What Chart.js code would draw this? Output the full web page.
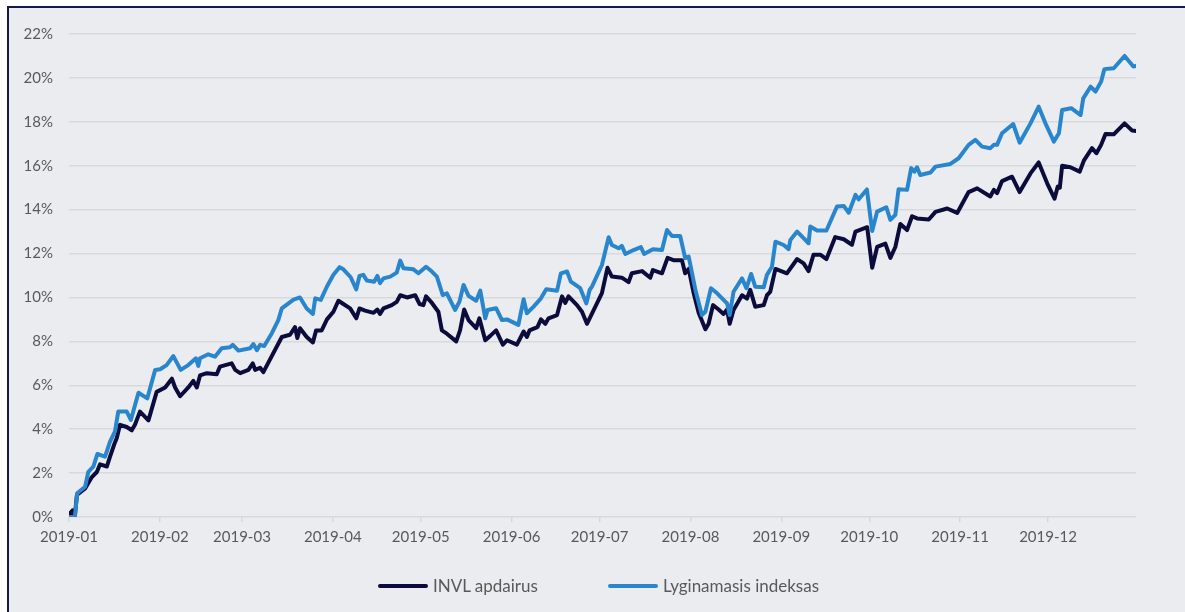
<!DOCTYPE html>
<html>
<head>
<meta charset="utf-8">
<script src="https://cdn.jsdelivr.net/npm/chart.js@4"></script>
<style>
  html, body { margin: 0; padding: 0; background: #ffffff; overflow: hidden; }
  #frame {
    position: absolute; left: 7px; top: 6px; width: 1200px; height: 620px;
    background: #ebecef; border-left: 2px solid #15184a; border-top: 2px solid #15184a;
  }
  #wrap { position: absolute; left: 0; top: 0; width: 1185px; height: 612px; }
  #legend { position: absolute; left: 0; top: 0; font-family: Lato, sans-serif; font-size: 17px; color: #595959; }
  .item { position: absolute; top: 575px; display: flex; align-items: center; white-space: nowrap; }
  .swatch { width: 50px; height: 4px; border-radius: 2px; margin-right: 5px; }
</style>
</head>
<body>
<div id="frame"></div>
<div id="wrap"><canvas id="chart"></canvas></div>
<div id="legend"></div>
<script>
// day of year (0 = 2019-01-01) and cumulative return, %
const monthLabels = ["2019-01", "2019-02", "2019-03", "2019-04", "2019-05", "2019-06",
  "2019-07", "2019-08", "2019-09", "2019-10", "2019-11", "2019-12"];
const monthStartDays = [0, 31, 59, 90, 120, 151, 181, 212, 243, 273, 304, 334];

const seriesNames = ["INVL apdairus", "Lyginamasis indeksas"];

const invlDays = [0, 1.2, 2, 2.7, 5.5, 7.7, 9.5, 10.6, 12.9, 14, 15.4, 16.3, 17.4, 19.7, 21.4, 22.5, 24.2, 27.1, 29.9,
  32.8, 35.1, 36.2, 37.9, 40.7, 42.4, 43.6, 44.7, 47, 50.4, 51.5, 55.5, 56.7, 58.4, 61.2, 62.7, 63.5, 65.2, 66.3,
  72.6, 75.4, 77.1, 77.9, 78.8, 81.1, 83.2, 84.3, 86.2, 88, 90.2, 91.9, 93.6, 95.9, 98, 99.1, 101, 103.9, 105.2,
  106.1, 107.3, 110.1, 111.8, 113, 115.3, 118.1, 119.6, 120.9, 121.8, 123.8, 126, 127.2, 128.9, 132.1, 133.4,
  134.8, 136.3, 138.9, 140, 142, 143.7, 145.7, 148, 149.4, 152.8, 155.1, 156.2, 157.1, 159.8, 161, 162.5, 163.6,
  166.5, 168.2, 169.3, 170.4, 173.3, 175, 176.7, 178.9, 181.8, 183.7, 185.2, 188.6, 190.9, 192, 195.5, 198.3,
  199.2, 202.3, 204.2, 206.2, 209.1, 210.2, 211.4, 213.1, 214.8, 217.1, 218.2, 219.7, 221.6, 223.3, 224.5, 225.4,
  226.7, 229.6, 231.3, 232.4, 234.1, 237, 238.1, 239.2, 241, 244.9, 248.4, 250.6, 252.3, 254, 256.3, 258.4, 261.4,
  264.3, 267.1, 268.3, 272.3, 274, 275.7, 278.5, 280.2, 281.9, 283.6, 285.9, 287.6, 289.3, 293.3, 295.6, 299.6,
  303, 306.9, 309.8, 314.3, 315.5, 316.6, 318.3, 321.7, 324.3, 328, 330.8, 333.7, 336.2, 337.3, 338, 338.8, 341.6,
  344.8, 346.2, 349, 350.5, 352.1, 353.6, 356.4, 360.1, 362.7, 364];
const invlValues = [0.1, 0.3, 0.05, 1.0, 1.3, 1.8, 2.05, 2.4, 2.3, 2.75, 3.3, 3.6, 4.2, 4.1, 3.95, 4.2, 4.8, 4.4, 5.7,
  5.9, 6.3, 5.9, 5.5, 5.9, 6.2, 5.9, 6.45, 6.55, 6.5, 6.85, 7.0, 6.7, 6.55, 6.7, 7.0, 6.7, 6.8, 6.6,
  8.2, 8.3, 8.65, 8.15, 8.6, 8.2, 7.95, 8.5, 8.5, 9.0, 9.35, 9.85, 9.7, 9.5, 9.05, 9.5, 9.4, 9.3, 9.45,
  9.25, 9.5, 9.65, 9.8, 10.1, 10.0, 10.1, 9.7, 9.65, 10.05, 9.75, 9.35, 8.5, 8.35, 8.0, 8.5,
  9.45, 8.97, 8.6, 9.05, 8.05, 8.25, 8.5, 7.85, 8.05, 7.85, 8.45, 8.2, 8.5, 8.65, 9.0, 8.8, 9.05,
  9.2, 10.05, 9.75, 10.05, 9.65, 9.35, 8.8, 9.4, 10.2, 11.35, 10.95, 10.9, 10.7, 11.1, 11.2, 10.9,
  11.25, 11.1, 11.8, 11.7, 11.7, 11.1, 11.3, 10.2, 9.3, 8.55, 8.8, 9.65, 9.45, 9.25, 9.45, 8.8,
  9.43, 10.1, 9.95, 10.35, 9.58, 9.65, 10.1, 10.25, 11.3, 11.1, 11.75, 11.55, 11.2, 11.95, 11.95, 11.75, 12.75,
  12.65, 12.4, 13.0, 13.2, 11.35, 12.3, 12.45, 11.8, 12.3, 13.35, 13.07, 13.7, 13.6, 13.55, 13.9, 14.05,
  13.85, 14.8, 14.97, 14.6, 14.9, 14.75, 15.3, 15.5, 14.8, 15.65, 16.15, 15.2, 14.5, 15.05, 15.0, 16.0, 15.93,
  15.73, 16.23, 16.8, 16.57, 16.95, 17.45, 17.43, 17.93, 17.6, 17.58];

const indexDays = [0, 2, 2.8, 5.5, 6.6, 8.3, 9.7, 12.3, 14, 15.7, 16.8, 19.7, 21.1, 23.7, 26.7, 29.4, 31.1, 33.3, 35.6,
  38.1, 40.7, 43.3, 44.1, 44.7, 47.5, 49.8, 52.1, 54.9, 55.9, 57.8, 61.8, 62.9, 64.1, 65.2, 66.6, 69.2, 71.4, 72.6,
  76.6, 78.8, 81.1, 83.2, 84, 85.9, 88, 90.2, 92.3, 93.6, 96.1, 98, 99.1, 100.4, 101.6, 104.1, 105.2, 106.1, 107.3,
  109.6, 111.8, 113, 114.1, 117.5, 119.2, 121.8, 123.8, 125.5, 127.5, 128.9, 131.7, 133.2, 134.6, 136.3, 138.9,
  140.3, 142, 142.8, 145.7, 147.7, 149.4, 153.3, 155.1, 156.2, 158.5, 161, 162.8, 166.5, 167.8, 169.9, 171.2,
  174.4, 176.5, 177.6, 178.4, 181.8, 184.1, 185.2, 187.5, 188.6, 189.8, 192.6, 195.1, 196.2, 199.2, 202.3, 204,
  205.7, 208.5, 210.2, 211.4, 213.7, 215.9, 217.1, 219, 221.1, 223.3, 224.5, 225.4, 226.7, 229.6, 231.1, 232.7,
  234.1, 237, 238.1, 239.8, 241, 243.8, 245.5, 246.1, 248.4, 250.6, 252.3, 252.9, 255.2, 258.4, 262, 264.3, 266,
  268.3, 269.4, 272.2, 274, 275.7, 278.8, 280.2, 281.9, 283, 285.9, 287.3, 288.4, 289.3, 290.4, 293.9, 295.6,
  300.7, 303.5, 306.9, 309.2, 311.5, 314.3, 315.5, 316.6, 318.3, 322.1, 324.3, 328, 330.8, 333.1, 336, 337.7,
  338.8, 341.9, 345.1, 346, 348.5, 350.2, 352.1, 353.2, 356.4, 360.1, 363.1, 364];
const indexValues = [0, 0, 1.08, 1.38, 2.06, 2.3, 2.87, 2.75, 3.43, 3.9, 4.8, 4.8, 4.42, 5.66, 5.4, 6.7, 6.73, 6.92, 7.33,
  6.7, 6.92, 7.23, 6.88, 7.23, 7.41, 7.3, 7.69, 7.73, 7.84, 7.58, 7.69, 7.88, 7.6, 7.84, 7.79, 8.37, 8.97, 9.5,
  9.9, 10.0, 9.5, 9.25, 9.96, 9.89, 10.5, 11.03, 11.38, 11.28, 10.92, 10.37, 10.98, 11.03, 10.77, 10.72, 10.98, 10.65, 10.87,
  10.95, 11.13, 11.68, 11.33, 11.28, 11.1, 11.4, 11.18, 10.95, 10.11, 10.19, 9.43, 9.81, 10.57, 10.07, 9.85,
  10.31, 9.05, 9.43, 9.51, 8.97, 9.0, 8.75, 9.92, 9.28, 9.58, 9.96, 10.37, 10.31, 11.1, 11.18, 10.72,
  10.42, 9.73, 10.34, 10.49, 11.48, 12.74, 12.39, 12.24, 12.35, 11.98, 12.16, 12.29, 11.98, 12.2, 12.16, 13.07,
  12.8, 12.8, 11.79, 11.86, 10.34, 9.2, 9.35, 10.42, 10.19, 9.89, 9.73, 9.2, 10.26, 10.87, 10.42, 11.07,
  10.49, 10.46, 11.03, 11.4, 12.54, 12.39, 12.2, 12.62, 13.0, 12.7, 12.47, 13.23, 13.05, 13.05, 14.14, 14.17, 13.86,
  14.67, 14.47, 14.92, 13.03, 13.91, 14.11, 13.53, 13.76, 14.93, 14.9, 15.89, 15.73, 15.93, 15.58, 15.69, 15.96,
  16.08, 16.34, 16.95, 17.18, 16.87, 16.8, 16.95, 16.95, 17.48, 17.9, 17.05, 17.93, 18.69, 17.93, 17.1, 17.48,
  18.54, 18.62, 18.31, 19.07, 19.6, 19.38, 19.83, 20.4, 20.44, 21.0, 20.52, 20.55];

const darkNavy = "#0b0b3c";
const lightBlue = "#2986cc";
const labelColor = "#595959";
const gridColor = "#d8d9dc";

function toPoints(days, values) {
  return days.map((d, i) => ({ x: d, y: values[i] }));
}

const ctx = document.getElementById("chart").getContext("2d");
const chart = new Chart(ctx, {
  type: "line",
  data: {
    datasets: [
      {
        label: seriesNames[0],
        data: toPoints(invlDays, invlValues),
        borderColor: darkNavy,
        backgroundColor: darkNavy,
        borderWidth: 4,
        order: 1,
      },
      {
        label: seriesNames[1],
        data: toPoints(indexDays, indexValues),
        borderColor: lightBlue,
        backgroundColor: lightBlue,
        borderWidth: 4,
        order: 0,
      },
    ],
  },
  options: {
    responsive: true,
    maintainAspectRatio: false,
    animation: false,
    elements: {
      point: { radius: 0, hoverRadius: 0 },
      line: { tension: 0, borderJoinStyle: "round", borderCapStyle: "round" },
    },
    layout: { padding: { top: 34, right: 49, bottom: 55, left: 0 } },
    plugins: {
      legend: { display: false },
      tooltip: { enabled: false },
    },
    scales: {
      x: {
        type: "linear",
        min: 0,
        max: 364,
        afterBuildTicks: (scale) => {
          scale.ticks = monthStartDays.map((v) => ({ value: v }));
        },
        afterFit: (scale) => {
          scale.height = 40;
        },
        ticks: {
          autoSkip: false,
          maxRotation: 0,
          padding: 6,
          color: labelColor,
          font: { family: "Lato", size: 15 },
          callback: (value) => monthLabels[monthStartDays.indexOf(value)],
        },
        grid: { drawOnChartArea: false, drawTicks: true, tickLength: 5, color: gridColor, lineWidth: 1.5 },
        border: { display: false },
      },
      y: {
        min: 0,
        max: 22,
        afterFit: (scale) => {
          scale.width = 69;
        },
        ticks: {
          stepSize: 2,
          padding: 16,
          color: labelColor,
          font: { family: "Lato", size: 15 },
          callback: (value) => value + "%",
        },
        grid: { drawTicks: false, color: gridColor, lineWidth: 1.5 },
        border: { display: false },
      },
    },
  },
});

// legend below the plot, one item per dataset
const legendEl = document.getElementById("legend");
const legendLefts = [378, 608];
chart.data.datasets.forEach((ds, i) => {
  const item = document.createElement("div");
  item.className = "item";
  item.style.left = legendLefts[i] + "px";
  item.innerHTML = '<span class="swatch" style="background:' + ds.borderColor + '"></span>' + ds.label;
  legendEl.appendChild(item);
});
</script>
</body>
</html>
